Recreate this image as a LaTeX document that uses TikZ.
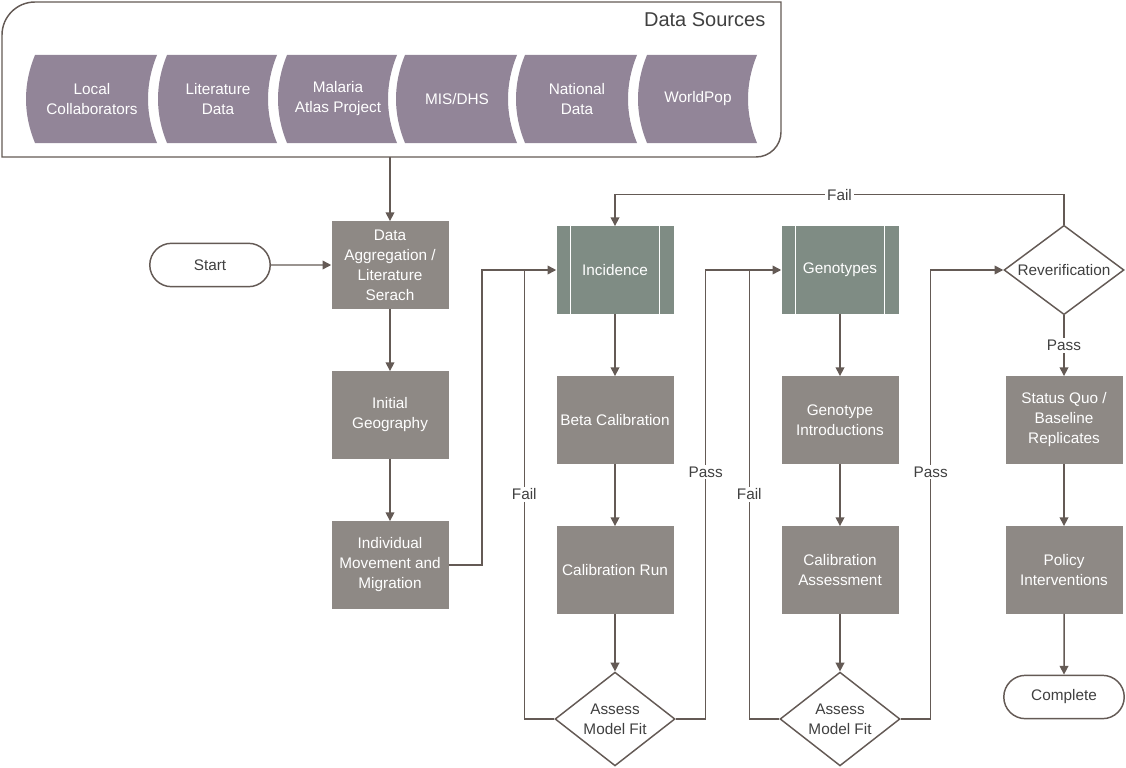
\documentclass[tikz,border=0pt]{standalone}
\usepackage{fontspec}
\setmainfont{Liberation Sans}
\usetikzlibrary{shapes.geometric,shapes.misc,arrows.meta}
\definecolor{srcpurple}{HTML}{928598}
\definecolor{procgray}{HTML}{8E8985}
\definecolor{subteal}{HTML}{7F8C84}
\definecolor{edgegray}{HTML}{645A55}
\definecolor{textdark}{HTML}{404040}
\begin{document}
\begin{tikzpicture}[x=0.75pt,y=-0.75pt,
  every node/.style={font=\fontsize{11.5pt}{15pt}\selectfont},
  procbox/.style={rectangle,fill=procgray,minimum width=87.75pt,minimum height=65.5pt,
    inner sep=0pt,text=white,align=center},
  subbox/.style={procbox,fill=subteal},
  decide/.style={diamond,draw=edgegray,line width=1.1pt,fill=white,minimum width=90pt,
    minimum height=67pt,inner sep=0pt,text=textdark,align=center},
  terminal/.style={rounded rectangle,draw=edgegray,line width=1.1pt,fill=white,
    minimum width=97pt,minimum height=32.5pt,text=textdark},
  srctext/.style={text=white,align=center},
  conn/.style={draw=edgegray,line width=1.1pt,-{Triangle[length=6.5pt,width=6.5pt]}},
  plain/.style={draw=edgegray,line width=1.1pt},
  lbl/.style={fill=white,text=textdark,inner sep=1.5pt}]
\useasboundingbox (0,0) rectangle (1126,767);

% Data sources container: rounded top-left and bottom-right corners
\draw[edgegray,line width=1.1pt] (2,157) -- (2,35) arc[start angle=180,end angle=90,radius=24.75pt]
  -- (781,2) -- (781,132) arc[start angle=0,end angle=-90,radius=18.75pt] -- cycle;
\node[anchor=east,text=textdark,font=\fontsize{15pt}{18pt}\selectfont] (dstitle) at (770,20) {Data Sources};
\coordinate (dsbottom) at (390,157);

% curved source tiles
\foreach \L/\R/\name/\txt in {35/157/s1/{Local\\Collaborators},167/277/s2/{Literature\\Data},
    287/397/s3/{Malaria\\Atlas Project},405/517/s4/{MIS/DHS},525/637/s5/{National\\Data},
    647/757/s6/{WorldPop}}{
  \fill[srcpurple] (\L,55) -- (\R,55) .. controls (\R-12,84) and (\R-12,114) .. (\R,143)
    -- (\L,143) .. controls (\L-12,114) and (\L-12,84) .. (\L,55) -- cycle;
  \node[srctext] (\name) at ({(\L+\R)/2-4},99) {\txt};
}

% first column
\node[terminal] (start) at (210,265) {Start};
\node[procbox] (agg) at (390,265) {Data\\Aggregation /\\Literature\\Serach};
\node[procbox] (geo) at (390,415) {Initial\\Geography};
\node[procbox] (move) at (390,565) {Individual\\Movement and\\Migration};

% incidence column
\node[subbox] (inc) at (615,270) {Incidence};
\node[procbox] (beta) at (615,420) {Beta Calibration};
\node[procbox] (run) at (615,570) {Calibration Run};
\node[decide] (fit1) at (615,719) {Assess\\Model Fit};

% genotype column
\node[subbox] (gen) at (840,270) {Genotypes};
\node[procbox] (intro) at (840,420) {Genotype\\Introductions};
\node[procbox] (assess) at (840,570) {Calibration\\Assessment};
\node[decide] (fit2) at (840,719) {Assess\\Model Fit};

% final column
\node[decide,label={[text=textdark]center:Reverification}] (rever) at (1064,270) {};
\node[procbox] (base) at (1064,420) {Status Quo /\\Baseline\\Replicates};
\node[procbox] (policy) at (1064,570) {Policy\\Interventions};
\node[terminal] (done) at (1064,697) {Complete};

% subprocess side bars
\foreach \n in {inc,gen}{
  \draw[white,line width=1pt] ([xshift=10.5pt]\n.north west) -- ([xshift=10.5pt]\n.south west);
  \draw[white,line width=1pt] ([xshift=-10.5pt]\n.north east) -- ([xshift=-10.5pt]\n.south east);
}

% connectors
\draw[conn] (dsbottom) -- (agg);
\draw[conn] (start) -- (agg);
\draw[conn] (agg) -- (geo);
\draw[conn] (geo) -- (move);
\draw[conn] (move.east) -- ++(33,0) |- (inc.west);

\draw[conn] (inc) -- (beta);
\draw[conn] (beta) -- (run);
\draw[conn] (run) -- (fit1);
\draw[plain] (fit1.west) -- ++(-30,0) coordinate (f1)
  -- (f1 |- inc.west) node[lbl,pos=0.5] {Fail};
\draw[conn] (fit1.east) -- ++(30,0) coordinate (p1)
  -- (p1 |- gen.west) node[lbl,pos=0.55] {Pass} -- (gen.west);

\draw[conn] (gen) -- (intro);
\draw[conn] (intro) -- (assess);
\draw[conn] (assess) -- (fit2);
\draw[plain] (fit2.west) -- ++(-30,0) coordinate (f2)
  -- (f2 |- gen.west) node[lbl,pos=0.5] {Fail};
\draw[conn] (fit2.east) -- ++(30,0) coordinate (p2)
  -- (p2 |- rever.west) node[lbl,pos=0.55] {Pass} -- (rever.west);

\draw[conn] (rever.north) -- ++(0,-30) coordinate (r1)
  -- (r1 -| inc.north) node[lbl,pos=0.5] {Fail} -- (inc.north);
\draw[conn] (rever.south) -- node[lbl] {Pass} (base.north);
\draw[conn] (base) -- (policy);
\draw[conn] (policy) -- (done);
\end{tikzpicture}
\end{document}
